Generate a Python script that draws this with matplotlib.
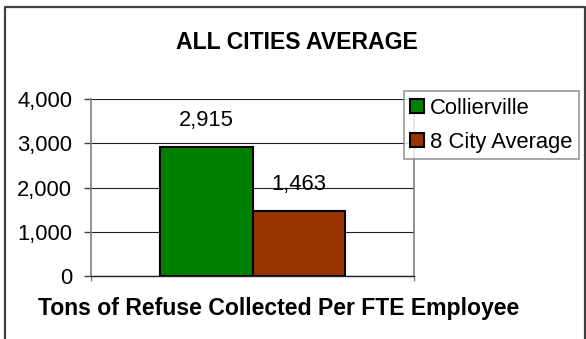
import matplotlib.pyplot as plt
from matplotlib.lines import Line2D

plt.rcParams['font.family'] = ['Liberation Sans', 'DejaVu Sans']

series = ['Collierville', '8 City Average']
values = [2915, 1463]
colors = ['#008000', '#993300']
yticks = [0, 1000, 2000, 3000, 4000]

fig = plt.figure(figsize=(5.86, 3.39), dpi=100)
ax = fig.add_axes([0.1553, 0.1858, 0.5512, 0.5222])

width = 0.286
offsets = [-width / 2, width / 2]
for name, v, c, dx in zip(series, values, colors, offsets):
    ax.bar(dx, v, width=width, color=c, edgecolor='black', linewidth=1.5,
           label=name, zorder=3)
    ax.annotate(f'{v:,}', (dx, v), xytext=(0, 19), textcoords='offset points',
                ha='center', va='center', fontsize=15.8, zorder=4)

ax.set_xlim(-0.5, 0.5)
ax.set_ylim(0, 4000)
ax.set_yticks(yticks)
ax.set_yticklabels([f'{t:,}' for t in yticks], fontsize=15.8)
ax.set_xticks([-0.5, 0.5])
ax.set_xticklabels([])
ax.tick_params(axis='y', direction='out', length=5, width=1, pad=8.5, color='#404040')
ax.tick_params(axis='x', direction='out', length=3.5, width=1, color='#808080')
ax.yaxis.grid(True, color='#202020', linewidth=0.8, zorder=0)

for side in ['left', 'right']:
    ax.spines[side].set_color('#808080')
    ax.spines[side].set_linewidth(1.2)
ax.spines['top'].set_visible(False)
ax.spines['bottom'].set_color('#202020')
ax.spines['bottom'].set_linewidth(1.0)

leg = fig.legend(loc='upper left', bbox_to_anchor=(0.689, 0.7316), fontsize=15.8,
                 frameon=True, fancybox=False, edgecolor='#808080',
                 handlelength=0.64, handleheight=0.64, handletextpad=0.25,
                 labelspacing=0.6, borderpad=0.3, borderaxespad=0)
leg.get_frame().set_linewidth(1.2)

fig.text(0.507, 0.8555, 'ALL CITIES AVERAGE', ha='center', va='baseline',
         fontsize=16.6, fontweight='bold')
fig.text(0.476, 0.0708, 'Tons of Refuse Collected Per FTE Employee',
         ha='center', va='baseline', fontsize=16.6, fontweight='bold')

# outer chart border (open at the bottom edge)
fig.add_artist(Line2D([0.0085, 0.0085, 0.9985, 0.9985], [-0.1, 0.9794, 0.9794, -0.1],
                      transform=fig.transFigure, color='#404040', linewidth=1.6))

fig.savefig('out.png', dpi=100)
